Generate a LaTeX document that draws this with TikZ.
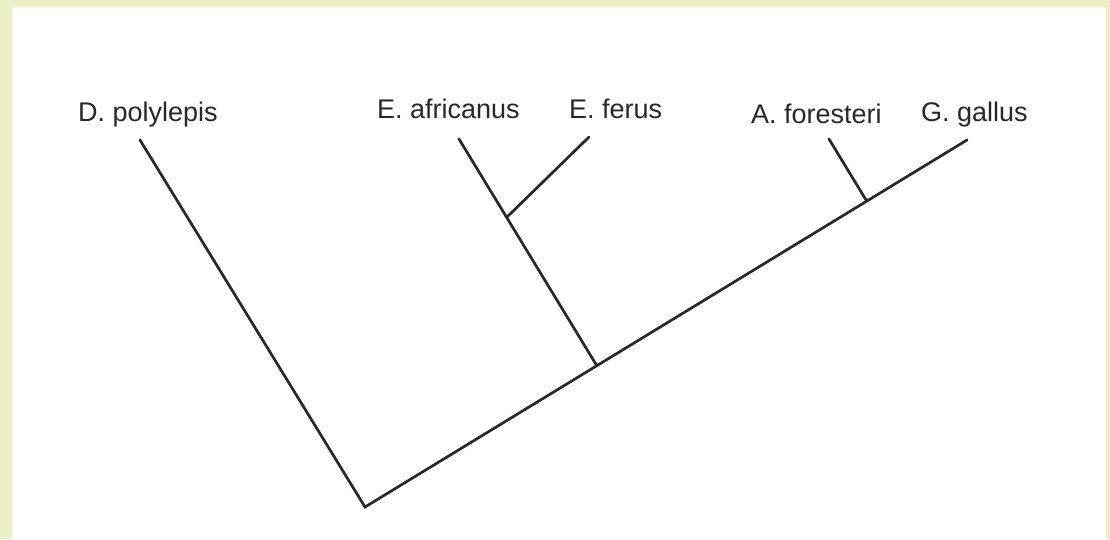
\documentclass[tikz,border=0pt]{standalone}
\usepackage{fontspec}
\setmainfont{Liberation Sans}
\definecolor{framey}{RGB}{236,240,196}
\definecolor{inky}{RGB}{40,40,40}
\tikzset{
  branch/.style={line width=2.7pt, draw=inky, line cap=round},
  taxon/.style={anchor=base west, inner sep=0pt, text=inky, font=\fontsize{27}{31}\selectfont}
}

\begin{document}
\begin{tikzpicture}[x=1pt, y=-1pt]
  \fill[framey] (0,0) rectangle (1110,539);
  \fill[white] (12,7) rectangle (1106,539);
  \useasboundingbox (0,0) rectangle (1110,539);
  % taxon labels
  \node[taxon] (dpol) at (78,121) {D. polylepis};
  \node[taxon] (eafr) at (377,118) {E. africanus};
  \node[taxon] (efer) at (569,118) {E. ferus};
  \node[taxon] (afor) at (751,123) {A. foresteri};
  \node[taxon] (ggal) at (921,121) {G. gallus};
  % branch tips and splits
  \coordinate (tdpol) at (140,140);
  \coordinate (teafr) at (459,139);
  \coordinate (tefer) at (589,137);
  \coordinate (tafor) at (829,139);
  \coordinate (tggal) at (967,140);
  \coordinate (root) at (365,507);
  \coordinate (splitbird) at (597,366);
  \coordinate (splitequ) at (507,217);
  \coordinate (splitgal) at (866,200);
  % tree
  \draw[branch] (tdpol) -- (root) -- (tggal);
  \draw[branch] (splitbird) -- (teafr);
  \draw[branch] (splitequ) -- (tefer);
  \draw[branch] (splitgal) -- (tafor);
\end{tikzpicture}
\end{document}
